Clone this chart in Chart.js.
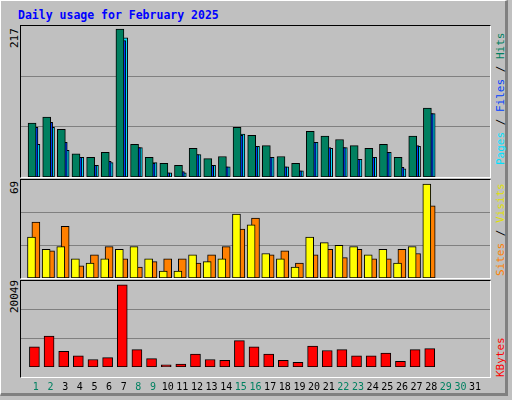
<!DOCTYPE html>
<html><head><meta charset="utf-8">
<script src="https://cdn.jsdelivr.net/npm/chart.js@4"></script>
<style>
html,body{margin:0;padding:0;}
body{width:512px;height:400px;background:#c0c0c0;position:relative;overflow:hidden;font-family:"DejaVu Sans Mono",monospace;}
#frame{position:absolute;left:0;top:0;width:508px;height:396px;border-top:1px solid #fff;border-left:1px solid #fff;border-right:3px solid #808080;border-bottom:3px solid #808080;box-sizing:border-box;}
.panel{position:absolute;left:20px;width:471px;border-top:1px solid #000;border-left:1px solid #000;border-right:1px solid #fff;border-bottom:1px solid #fff;box-sizing:border-box;}
canvas{position:absolute;}
.rot{position:absolute;transform-origin:0 0;transform:rotate(-90deg);white-space:nowrap;font-size:11px;}
#title{position:absolute;left:18px;top:8px;color:#0000ff;font-weight:bold;font-size:11.5px;}
</style></head><body>
<div id="frame"></div>
<div id="title">Daily usage for February 2025</div>
<div class="panel" style="top:25px;height:153px"></div>
<div class="panel" style="top:179px;height:100px"></div>
<div class="panel" style="top:280px;height:98px"></div>
<canvas id="c1" width="469" height="151" style="left:21px;top:26px"></canvas>
<canvas id="c2" width="469" height="98" style="left:21px;top:180px"></canvas>
<canvas id="c3" width="469" height="118" style="left:21px;top:281px"></canvas>
<div class="rot" style="left:8px;top:48px">217</div>
<div class="rot" style="left:8px;top:194px">69</div>
<div class="rot" style="left:8px;top:313px">20049</div>
<div class="rot" style="left:494px;top:165px"><span style="color:#00e0ff">Pages</span> / <span style="color:#0040ff">Files</span> / <span style="color:#008060">Hits</span></div>
<div class="rot" style="left:494px;top:276px"><span style="color:#ff8000">Sites</span> / <span style="color:#e0e000">Visits</span></div>
<div class="rot" style="left:494px;top:377px"><span style="color:#ff0000">KBytes</span></div>
<script>
const days = Array.from({length:31},(_,i)=>i+1);
const weekend = [1,2,8,9,15,16,22,23,29,30];
const hits  = [79,88,70,34,29,36,217,48,29,20,17,42,27,30,73,61,46,30,20,67,60,55,46,42,48,29,60,101];
const files = [73,80,51,29,17,23,200,43,20,6,8,33,17,15,61,45,29,15,9,51,43,43,26,29,36,14,46,93];
const pages = [48,73,39,29,17,21,204,43,21,6,6,33,17,15,63,45,29,15,9,51,42,43,26,29,36,12,45,93];
const visits= [30,21,23,14,11,14,21,23,14,5,5,17,12,14,47,39,18,14,8,30,26,24,23,17,21,11,23,69];
const sites = [41,20,38,9,17,23,14,8,12,14,14,11,17,23,36,44,17,20,11,17,21,15,21,14,14,21,18,53];
const kbytes= [4900,7540,3800,2700,1830,2270,20049,4250,2050,510,730,3150,1830,1610,6440,4900,3150,1610,1170,5120,4030,4250,2700,2700,3370,1390,4250,4470];
const yTop = [217,69,20049];

function ds(vals,color,off,w){
  return {data:vals.map((v,i)=>({x:days[i]+off,y:v})),grouped:false,backgroundColor:color,borderColor:'#000',borderWidth:1,barThickness:w,borderSkipped:false};
}
function opts(max,showX){
  return {responsive:false,animation:false,devicePixelRatio:1,
    layout:{padding:0},
    plugins:{legend:{display:false},tooltip:{enabled:false}},
    scales:{
      x:{type:'linear',min:0.5,max:31.5,display:showX,grid:{display:false},border:{display:false},
        afterBuildTicks:s=>{s.ticks=days.map(d=>({value:d}));},
        ticks:{autoSkip:false,maxRotation:0,padding:6,font:{family:'DejaVu Sans Mono',size:10},
          color:c=>weekend.includes(c.tick.value)?'#008060':'#000',callback:v=>String(v)}},
      y:{min:0,max:max,display:true,border:{display:false},
        afterBuildTicks:s=>{s.ticks=[{value:max/3},{value:2*max/3}];},
        ticks:{display:false},grid:{color:'#808080',lineWidth:1,drawTicks:false}}
    }};
}
new Chart(document.getElementById('c1'),{type:'bar',data:{datasets:[
  ds(hits,'#008060',-0.26,8),ds(files,'#0040ff',-0.13,8),ds(pages,'#00e0ff',0,8)]},
  options:opts(yTop[0]*151/148,false)});
new Chart(document.getElementById('c2'),{type:'bar',data:{datasets:[
  ds(visits,'#ffff00',-0.3,8),ds(sites,'#ff8000',0,8)]},
  options:opts(yTop[1]*96/92,false)});
new Chart(document.getElementById('c3'),{type:'bar',data:{datasets:[
  ds(kbytes,'#ff0000',-0.1,10)]},
  options:opts(yTop[2]*96/91.7,true)});
</script>
</body></html>
